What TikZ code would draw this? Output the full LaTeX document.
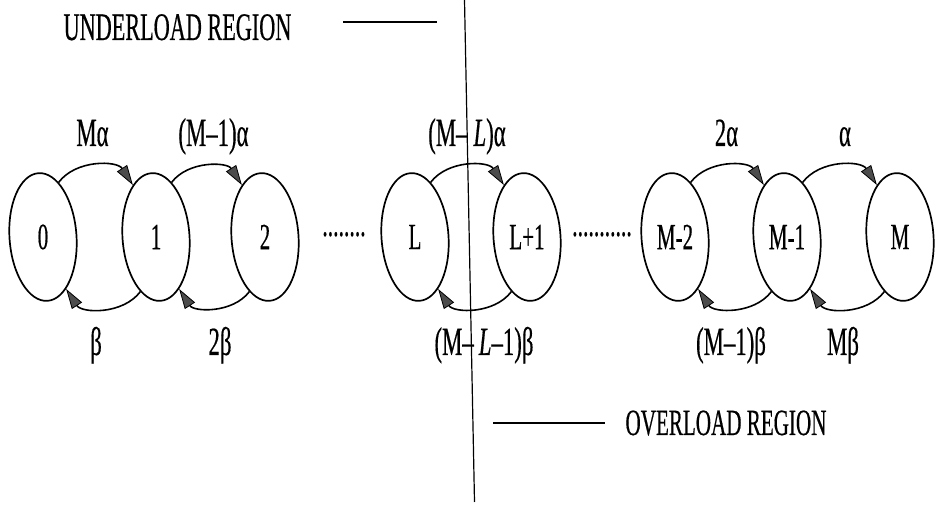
\documentclass[tikz,border=0pt]{standalone}
\usepackage{fontspec}
\usepackage{graphicx}
\usetikzlibrary{shapes.geometric,arrows.meta}
\newfontfamily\condserif[FakeStretch=0.57,FakeBold=0.4]{Liberation Serif}

\begin{document}
\begin{tikzpicture}[x=1pt,y=1pt,
  state/.style={ellipse, draw, line width=1.7pt, minimum width=67pt,
    minimum height=128pt, inner sep=0pt, rotate=4,
    font=\condserif\fontsize{37}{37}\selectfont},
  rate/.style={font=\condserif\fontsize{40}{40}\selectfont, inner sep=0pt, anchor=base},
  region/.style={font=\condserif\fontsize{39}{39}\selectfont, inner sep=0pt, anchor=base},
  gap/.style={font=\condserif\fontsize{38}{38}\selectfont, inner sep=0pt, anchor=base},
  trans/.style={line width=1.6pt,
    -{Triangle[length=20pt,width=12pt,line width=0.8pt,fill=black!70]}},
  rule/.style={line width=1.3pt},
  divider/.style={line width=1.2pt}
]
\useasboundingbox (0,0) rectangle (937,505);

% states of the chain
\node[state] (s0)  at (43,268)  {\rotatebox{-4}{0}};
\node[state] (s1)  at (156,268) {\rotatebox{-4}{1}};
\node[state] (s2)  at (265,268) {\rotatebox{-4}{2}};
\node[state] (sL)  at (415,268) {\rotatebox{-4}{L}};
\node[state] (sL1) at (527,268) {\rotatebox{-4}{L+1}};
\node[state] (sM2) at (675,268) {\rotatebox{-4}{M-2}};
\node[state] (sM1) at (787,268) {\rotatebox{-4}{M-1}};
\node[state] (sM)  at (900,268) {\rotatebox{-4}{M}};

% omitted states
\node[gap] (d1) at (344,269) {........};
\node[gap] (d2) at (602,269) {...........};

% forward transitions
\draw[trans] (s0.70)  to[bend left=55] (s1.110);
\draw[trans] (s1.70)  to[bend left=55] (s2.110);
\draw[trans] (sL.70)  to[bend left=55] (sL1.110);
\draw[trans] (sM2.70) to[bend left=55] (sM1.110);
\draw[trans] (sM1.70) to[bend left=55] (sM.110);

% backward transitions
\draw[trans] (s1.250)  to[bend left=55] (s0.290);
\draw[trans] (s2.250)  to[bend left=55] (s1.290);
\draw[trans] (sL1.250) to[bend left=55] (sL.290);
\draw[trans] (sM1.250) to[bend left=55] (sM2.290);
\draw[trans] (sM.250)  to[bend left=55] (sM1.290);

% rates
\node[rate] (a0) at (92.5,359) {Mα};
\node[rate] (a1) at (213.5,359) {(M–1)α};
\node[rate] (aL) at (467,359) {(M–\kern6pt\textit{L})α};
\node[rate] (aM2) at (726.5,359) {2α};
\node[rate] (aM1) at (845,359) {α};

\node[rate] (b1) at (96,150) {β};
\node[rate] (b2) at (220,150) {2β};
\node[rate] (bL) at (484,150) {(M–\kern5pt\textit{L}–1)β};
\node[rate] (bM1) at (731,150) {(M–1)β};
\node[rate] (bM) at (843,150) {Mβ};

% boundary between the two regions
\coordinate (top) at (464.5,505);
\coordinate (bot) at (474.5,3);
\draw[divider] (top) -- (bot);

% region labels
\node[region] (under) at (177.5,465) {UNDERLOAD REGION};
\coordinate (u1) at (343,483);
\coordinate (u2) at (437,483);
\draw[rule] (u1) -- (u2);

\node[region, font=\condserif\fontsize{37}{37}\selectfont] (over) at (726,70) {OVERLOAD REGION};
\coordinate (o1) at (493,82);
\coordinate (o2) at (605,82);
\draw[rule] (o1) -- (o2);
\end{tikzpicture}
\end{document}
